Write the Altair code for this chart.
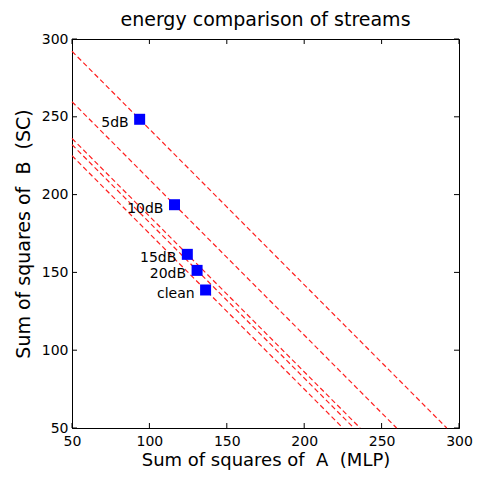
import altair as alt
import pandas as pd

# ---- data ----
labels = ["5dB", "10dB", "15dB", "20dB", "clean"]
mlp = [93.7, 116.2, 124.5, 130.8, 136.3]     # Sum of squares of A (MLP)
sc = [248.4, 193.5, 161.6, 151.3, 138.7]     # Sum of squares of B (SC)
tick_values = [50, 100, 150, 200, 250, 300]
chart_title = "energy comparison of streams"
x_title = "Sum of squares of\u00a0 A\u00a0 (MLP)"
y_title = "Sum of squares of\u00a0 B\u00a0 (SC)"

W = 387
H = 389
FONT = "DejaVu Sans"
TICK = 5

pts = pd.DataFrame({"label": labels, "A": mlp, "B": sc})

# equal-energy lines (A + B = const) through every point, across the axes range
rows = []
lo = tick_values[0]
for l, a, b in zip(labels, mlp, sc):
    s = a + b
    rows.append({"label": l, "A": lo, "B": s - lo, "o": 0})
    rows.append({"label": l, "A": s - lo, "B": lo, "o": 1})
lines_df = pd.DataFrame(rows)
ticks_df = pd.DataFrame({"t": tick_values})

xs = alt.Scale(domain=[50, 300], nice=False, zero=False)
ys = alt.Scale(domain=[50, 300], nice=False, zero=False)

xaxis = alt.Axis(values=tick_values, ticks=False, grid=False, title=x_title,
                 labelFont=FONT, labelFontSize=14, labelColor="black", labelPadding=6,
                 labelFlush=False, labelOverlap=False,
                 titleFont=FONT, titleFontSize=18, titleFontWeight="normal",
                 titleColor="black", titlePadding=3, domainColor="black")
yaxis = alt.Axis(values=tick_values, ticks=False, grid=False, title=y_title,
                 labelFont=FONT, labelFontSize=14, labelColor="black", labelPadding=4,
                 labelOverlap=False,
                 titleFont=FONT, titleFontSize=19, titleFontWeight="normal",
                 titleColor="black", titlePadding=8, domainColor="black")

X = lambda f: alt.X(f, scale=xs, axis=xaxis)
Y = lambda f: alt.Y(f, scale=ys, axis=yaxis)

base_lines = alt.Chart(lines_df).mark_line(
    color="#ff2020", strokeDash=[5, 3], strokeWidth=1.2
).encode(
    x=X("A:Q"),
    y=Y("B:Q"),
    detail="label:N",
    order="o:Q",
)

points = alt.Chart(pts).mark_square(size=121, color="#0000ff", opacity=1, filled=True).encode(
    x=X("A:Q"), y=Y("B:Q"),
)

text = alt.Chart(pts).mark_text(
    align="right", baseline="middle", dx=-11, dy=4, font=FONT, fontSize=14, color="black"
).encode(
    x=X("A:Q"), y=Y("B:Q"), text="label:N",
)

# inward ticks on all four sides
xt_bottom = alt.Chart(ticks_df).mark_rule(color="black", strokeWidth=1).encode(
    x=X("t:Q"), y=alt.value(H), y2=alt.value(H - TICK))
xt_top = alt.Chart(ticks_df).mark_rule(color="black", strokeWidth=1).encode(
    x=X("t:Q"), y=alt.value(0), y2=alt.value(TICK))
yt_left = alt.Chart(ticks_df).mark_rule(color="black", strokeWidth=1).encode(
    y=Y("t:Q"), x=alt.value(0), x2=alt.value(TICK))
yt_right = alt.Chart(ticks_df).mark_rule(color="black", strokeWidth=1).encode(
    y=Y("t:Q"), x=alt.value(W), x2=alt.value(W - TICK))

chart = alt.layer(
    base_lines, xt_bottom, xt_top, yt_left, yt_right, points, text
).properties(
    width=W, height=H,
    title=alt.TitleParams(chart_title, font=FONT, fontSize=19, fontWeight="normal",
                          color="black", anchor="middle", offset=2),
    autosize=alt.AutoSizeParams(type="none"),
    padding={"left": 64, "top": 31, "right": 14, "bottom": 43},
).configure_view(stroke="black", strokeWidth=1)

chart.save("out.html", embed_options={"renderer": "svg", "actions": False})
